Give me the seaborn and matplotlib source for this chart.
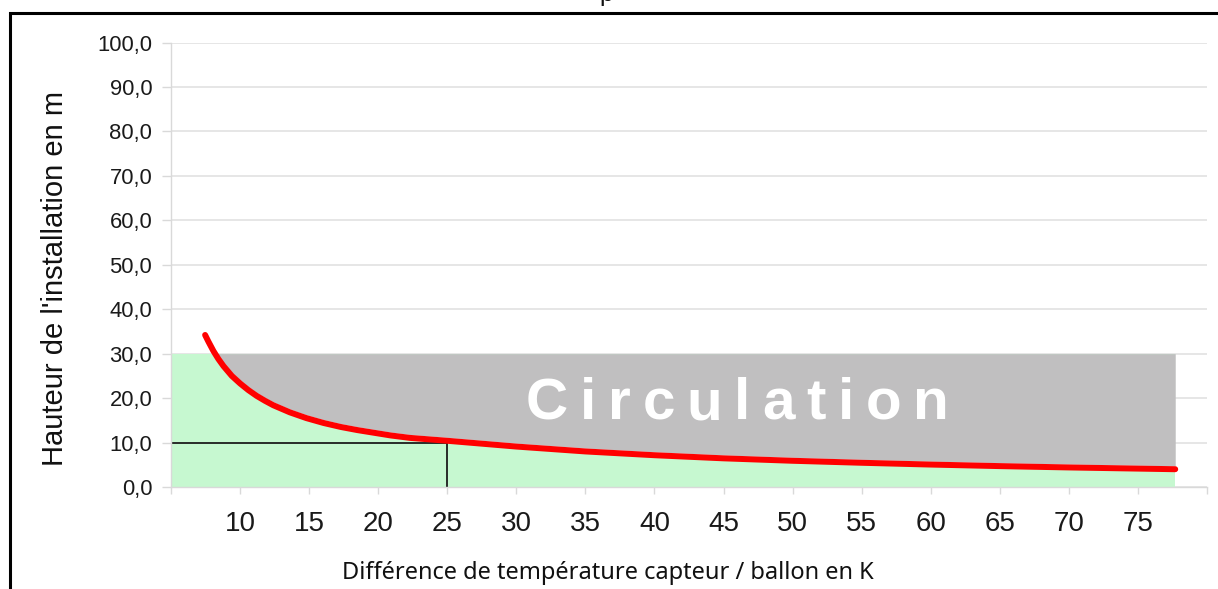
import matplotlib
matplotlib.use("Agg")
import matplotlib.pyplot as plt
import seaborn as sns
import numpy as np
from matplotlib.patches import Rectangle
from matplotlib.font_manager import FontProperties

# Hauteur maximale de l'installation selon l'écart de température capteur / ballon
delta_t = [7.47, 7.71, 8.07, 8.43, 8.8, 9.4, 10.0, 10.6, 11.2, 11.8, 12.4,
           13.6, 14.8, 16.05, 17.3, 18.5, 19.7, 20.9, 22.3, 25.0, 30.0,
           35.0, 40.0, 45.0, 50.0, 55.0, 60.0, 65.0, 70.0, 77.7]
hauteur = [34.2, 32.7, 30.6, 28.8, 27.2, 25.0, 23.3, 21.8, 20.5, 19.4, 18.4,
           16.8, 15.5, 14.4, 13.5, 12.8, 12.2, 11.6, 11.05, 10.4, 9.1,
           8.0, 7.15, 6.45, 5.9, 5.45, 5.05, 4.7, 4.4, 4.0]

x_ticks = [5, 10, 15, 20, 25, 30, 35, 40, 45, 50, 55, 60, 65, 70, 75, 80]
x_tick_labels = ["", "10", "15", "20", "25", "30", "35", "40", "45", "50",
                 "55", "60", "65", "70", "75", ""]
y_ticks = [0, 10, 20, 30, 40, 50, 60, 70, 80, 90, 100]
y_tick_labels = ["0,0", "10,0", "20,0", "30,0", "40,0", "50,0", "60,0",
                 "70,0", "80,0", "90,0", "100,0"]

hauteur_limite = 30.0             # limite haute de la zone
zone_debut, zone_fin = 5.0, 77.7  # étendue horizontale des zones
lecture_x, lecture_y = 25, 10     # exemple de lecture sur la courbe

sns.set_theme(style="white")
plt.rcParams["font.family"] = ["Liberation Sans", "DejaVu Sans"]

W, H, DPI = 1218, 589, 100
fig = plt.figure(figsize=(W / DPI, H / DPI), dpi=DPI)
ax = fig.add_axes([171 / W, 1 - 487 / H, (1207 - 171) / W, (487 - 42.5) / H])

# zones : circulation naturelle (vert) et circulation (gris)
ax.fill_between([zone_debut, zone_fin], 0, hauteur_limite,
                color="#c6f8d0", lw=0, zorder=1)
dt = np.array(delta_t)
hh = np.array(hauteur)
ax.fill_between(dt, hh, hauteur_limite, where=hh <= hauteur_limite,
                interpolate=True, color="#c0bfc0", lw=0, zorder=1.5)

# lignes de lecture
ax.plot([zone_debut, lecture_x], [lecture_y, lecture_y], color="#1c1c1c",
        lw=1.3, zorder=2)
ax.plot([lecture_x, lecture_x], [0, lecture_y], color="#1c1c1c",
        lw=1.3, zorder=2)

# liseré clair côté zone grise, puis la courbe rouge
ax.plot(dt, hh + 0.35, color="#f4f0f0", lw=2.0, zorder=2.5,
        solid_joinstyle="round")
sns.lineplot(x=delta_t, y=hauteur, color="#ff0000", lw=4.3, ax=ax,
             estimator=None, sort=True, zorder=3,
             solid_capstyle="round", solid_joinstyle="round")

ax.set_xlim(5, 80)
ax.set_ylim(0, 100)
ax.set_xticks(x_ticks)
ax.set_xticklabels(x_tick_labels)
ax.set_yticks(y_ticks)
ax.set_yticklabels(y_tick_labels)
ax.set_axisbelow(True)
ax.yaxis.grid(True, color="#e2e2e2", lw=1.2)
ax.xaxis.grid(False)
for s in ("top", "right"):
    ax.spines[s].set_visible(False)
for s in ("left", "bottom"):
    ax.spines[s].set_color("#d9d9d9")
    ax.spines[s].set_linewidth(1.0)
ax.tick_params(axis="y", length=6.5, width=1, color="#d9d9d9", pad=7,
               labelsize=15.8, labelcolor="#1a1a1a", left=True)
ax.tick_params(axis="x", length=5, width=1, color="#d9d9d9", pad=12,
               labelsize=20, labelcolor="#1a1a1a", bottom=True)

ax.set_ylabel("Hauteur de l'installation en m", fontsize=21, color="#111111",
              va="center", ha="center")
ax.yaxis.set_label_coords((55 - 171) / 1036, (487 - 278.5) / 444.5)
ax.set_xlabel("Différence de température capteur / ballon en K", fontsize=17,
              color="#111111", family=["Noto Sans", "DejaVu Sans"],
              va="center", ha="center")
ax.xaxis.set_label_coords((608 - 171) / 1036, (487 - 573) / 444.5)

# texte « Circulation » espacé lettre par lettre
fig.canvas.draw()
renderer = fig.canvas.get_renderer()
fp = FontProperties(family="Liberation Sans", weight="bold", size=42)
mot = "Circulation"
largeurs = [renderer.get_text_width_height_descent(c, fp, ismath=False)[0]
            for c in mot]
espace_px = 11.8
decalage = 0.0
for c, w in zip(mot, largeurs):
    ax.annotate(c, xy=(30.7, 15.2), xycoords="data",
                xytext=(decalage * 72 / DPI, 0), textcoords="offset points",
                ha="left", va="baseline", color="white", fontproperties=fp,
                zorder=4)
    decalage += w + espace_px

# titre (coupé en haut) et cadre
fig.text(606 / W, 1 - 1 / H, "p", ha="center", va="baseline", fontsize=18,
         color="#111111")
fig.add_artist(Rectangle((10 / W, -0.05), 1.2, (1 - 13 / H) + 0.05,
                         transform=fig.transFigure, fill=False, lw=2.2,
                         ec="black", clip_on=False))

fig.savefig("out.png", dpi=DPI)
